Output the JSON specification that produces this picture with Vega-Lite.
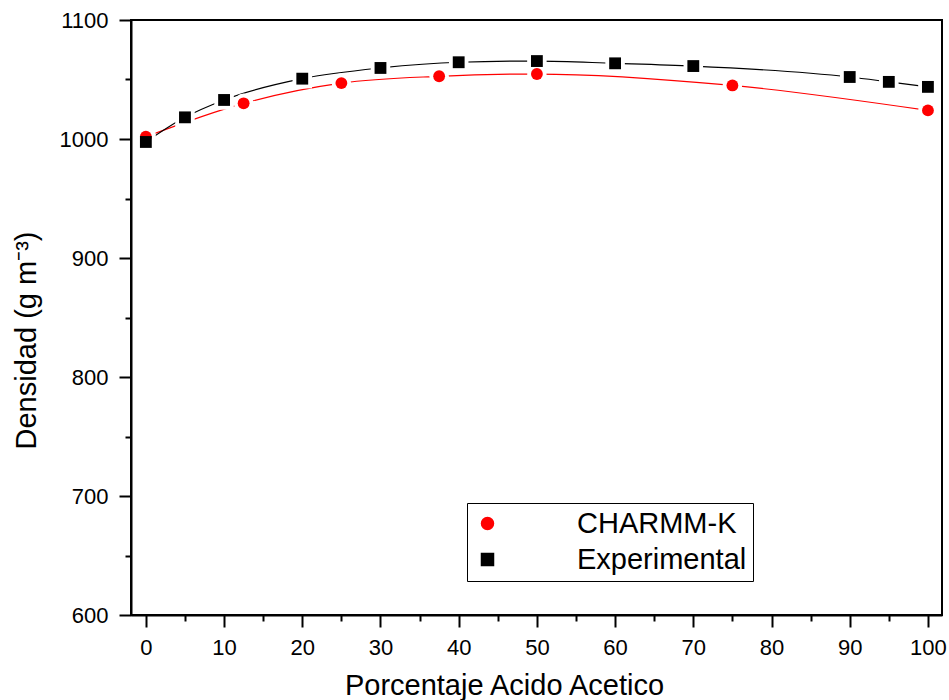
{
  "$schema": "https://vega.github.io/schema/vega-lite/v6.json",
  "width": 811,
  "height": 595,
  "autosize": {"type": "none"},
  "padding": {"left": 131, "top": 20, "right": 7, "bottom": 85},
  "background": "white",
  "config": {
    "font": "Liberation Sans",
    "view": {"stroke": "black", "strokeWidth": 2},
    "axis": {"grid": false}
  },
  "data": {
    "values": [
      {"serie": "CHARMM-K", "x": 0, "y": 1001.9},
      {"serie": "CHARMM-K", "x": 12.5, "y": 1030},
      {"serie": "CHARMM-K", "x": 25, "y": 1047},
      {"serie": "CHARMM-K", "x": 37.5, "y": 1052.7},
      {"serie": "CHARMM-K", "x": 50, "y": 1054.6},
      {"serie": "CHARMM-K", "x": 75, "y": 1045},
      {"serie": "CHARMM-K", "x": 100, "y": 1024},
      {"serie": "Experimental", "x": 0, "y": 997.5},
      {"serie": "Experimental", "x": 5, "y": 1018.2},
      {"serie": "Experimental", "x": 10, "y": 1032.8},
      {"serie": "Experimental", "x": 20, "y": 1050.7},
      {"serie": "Experimental", "x": 30, "y": 1059.7},
      {"serie": "Experimental", "x": 40, "y": 1064.5},
      {"serie": "Experimental", "x": 50, "y": 1065.5},
      {"serie": "Experimental", "x": 60, "y": 1063.6},
      {"serie": "Experimental", "x": 70, "y": 1061.3},
      {"serie": "Experimental", "x": 90, "y": 1052.1},
      {"serie": "Experimental", "x": 95, "y": 1048},
      {"serie": "Experimental", "x": 100, "y": 1043.8}
    ]
  },
  "layer": [
    {
      "mark": {"type": "line", "interpolate": "monotone", "strokeWidth": 1.2},
      "encoding": {
        "x": {
          "field": "x", "type": "quantitative",
          "scale": {"domain": [-1.9, 101.8], "nice": false, "zero": false},
          "axis": {
            "orient": "bottom",
            "values": [0, 5, 10, 15, 20, 25, 30, 35, 40, 45, 50, 55, 60, 65, 70, 75, 80, 85, 90, 95, 100],
            "labelExpr": "datum.value % 10 === 0 ? datum.label : ''",
            "tickSize": {"expr": "datum.value % 10 === 0 ? 12 : 6"},
            "tickWidth": 2, "tickColor": "black",
            "domainColor": "black", "domainWidth": 2,
            "labelFontSize": 22, "labelColor": "black", "labelPadding": 10,
            "labelFlush": false, "labelOverlap": false,
            "title": "Porcentaje Acido Acetico",
            "titleFontSize": 29, "titleFontWeight": "normal", "titleColor": "black",
            "titleX": 373, "titleY": 79, "titleBaseline": "alphabetic", "titleAlign": "center"
          }
        },
        "y": {
          "field": "y", "type": "quantitative",
          "scale": {"domain": [600, 1100], "nice": false, "zero": false},
          "axis": {
            "orient": "left",
            "values": [600, 650, 700, 750, 800, 850, 900, 950, 1000, 1050, 1100],
            "labelExpr": "datum.value % 100 === 0 ? datum.label : ''",
            "format": "d",
            "tickSize": {"expr": "datum.value % 100 === 0 ? 12 : 6"},
            "tickWidth": 2, "tickColor": "black",
            "domainColor": "black", "domainWidth": 2,
            "labelFontSize": 22, "labelColor": "black", "labelPadding": 11,
            "labelFlush": false, "labelOverlap": false,
            "title": "Densidad (g m⁻³)",
            "titleFontSize": 29, "titleFontWeight": "normal", "titleColor": "black",
            "titleAngle": -90, "titleX": -96, "titleY": 320,
            "titleBaseline": "alphabetic", "titleAlign": "center"
          }
        },
        "color": {
          "field": "serie", "type": "nominal",
          "scale": {"domain": ["CHARMM-K", "Experimental"], "range": ["#ff0000", "#000000"]}
        }
      }
    },
    {
      "mark": {"type": "point", "filled": true, "color": "white", "opacity": 1, "size": 380},
      "encoding": {
        "x": {"field": "x", "type": "quantitative"},
        "y": {"field": "y", "type": "quantitative"},
        "shape": {
          "field": "serie", "type": "nominal",
          "scale": {"domain": ["CHARMM-K", "Experimental"], "range": ["circle", "square"]},
          "legend": null
        }
      }
    },
    {
      "mark": {"type": "point", "filled": true, "opacity": 1, "size": 140},
      "encoding": {
        "x": {"field": "x", "type": "quantitative"},
        "y": {"field": "y", "type": "quantitative"},
        "shape": {"field": "serie", "type": "nominal", "legend": null},
        "color": {
          "field": "serie", "type": "nominal",
          "legend": {
            "orient": "none", "legendX": 336, "legendY": 483,
            "title": null, "padding": 6,
            "strokeColor": "black", "fillColor": "white",
            "labelFontSize": 29, "labelColor": "black", "labelFont": "Liberation Sans",
            "labelOffset": 75, "symbolSize": 144, "rowPadding": 6,
            "labelLimit": 400,
            "encode": {
              "symbols": {
                "shape": {"value": {"expr": "datum.value === 'CHARMM-K' ? 'M2.83,0H6.5M10.17,0H13.67M7.22,0A1.03,1.03 0 1,1 9.28,0A1.03,1.03 0 1,1 7.22,0Z' : 'M2.83,0H6.5M10.17,0H13.67M7.39,-0.86H9.11V0.86H7.39Z'"}},
                "fill": {"value": {"expr": "datum.value === 'CHARMM-K' ? '#ff0000' : '#000000'"}},
                "stroke": {"value": {"expr": "datum.value === 'CHARMM-K' ? '#ff0000' : '#000000'"}},
                "strokeWidth": {"value": 1},
                "opacity": {"value": 1}
              }
            }
          }
        }
      }
    }
  ]
}
